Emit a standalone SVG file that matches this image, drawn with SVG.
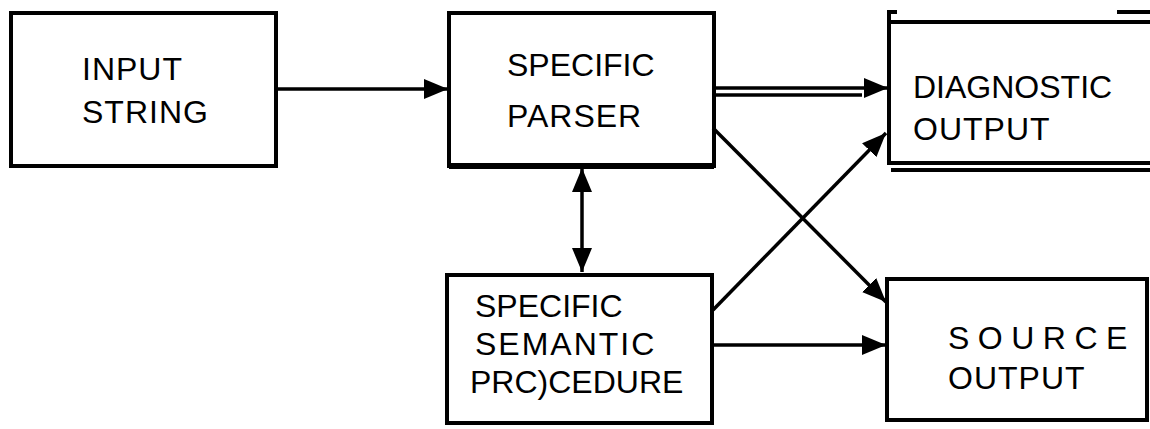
<svg xmlns="http://www.w3.org/2000/svg" width="1150" height="429" viewBox="0 0 1150 429">
<style>
.box{fill:none;stroke:#000;stroke-width:4}
.ln{fill:none;stroke:#000;stroke-width:3.5}
.t{font-family:"Liberation Sans",Arial,sans-serif;font-size:32px;fill:#000}
</style>
<defs>
<marker id="ah" viewBox="0 0 24 20" refX="24" refY="10" markerWidth="24" markerHeight="20" markerUnits="userSpaceOnUse" orient="auto-start-reverse">
<path d="M0,0 L24,10 L0,20 Z" fill="#000"/>
</marker>
</defs>
<rect width="1150" height="429" fill="#fff"/>
<g id="connectors">
<line class="ln" x1="277" y1="89" x2="448" y2="89" marker-end="url(#ah)"/>
<line class="ln" x1="715" y1="88" x2="888" y2="88" marker-end="url(#ah)"/>
<line class="ln" x1="715" y1="95" x2="862" y2="95"/>
<line class="ln" x1="582" y1="168" x2="582" y2="272" marker-start="url(#ah)" marker-end="url(#ah)"/>
<line class="ln" x1="713" y1="128" x2="886" y2="302" marker-end="url(#ah)"/>
<line class="ln" x1="713" y1="310" x2="886" y2="133" marker-end="url(#ah)"/>
<line class="ln" x1="713" y1="345" x2="886" y2="345" marker-end="url(#ah)"/>
</g>
<g id="input-string">
<rect class="box" x="11" y="13" width="265" height="153"/>
<text class="t" x="82" y="80" style="letter-spacing:1px">INPUT</text>
<text class="t" x="82" y="123" style="letter-spacing:1px">STRING</text>
</g>
<g id="specific-parser">
<rect class="box" x="449" y="13" width="265" height="153"/>
<line class="box" x1="449" y1="166" x2="714" y2="166" style="stroke-width:6"/>
<text class="t" x="507" y="76">SPECIFIC</text>
<text class="t" x="507" y="127" style="letter-spacing:1px">PARSER</text>
</g>
<g id="diagnostic-output">
<path class="box" d="M897,12 L889,12 L889,163 L1150,163 M889,22 L1150,22 M1117,12 L1150,12"/>
<line class="box" x1="891" y1="170" x2="1150" y2="170"/>
<text class="t" x="913" y="98">DIAGNOSTIC</text>
<text class="t" x="913" y="140" style="letter-spacing:1px">OUTPUT</text>
</g>
<g id="specific-semantic-procedure">
<rect class="box" x="447" y="275" width="265" height="148"/>
<text class="t" x="475" y="317">SPECIFIC</text>
<text class="t" x="475" y="355" style="letter-spacing:2px">SEMANTIC</text>
<text class="t" x="470" y="393">PRC)CEDURE</text>
</g>
<g id="source-output">
<rect class="box" x="887" y="279" width="260" height="141"/>
<text class="t" x="948" y="349" style="letter-spacing:8.5px">SOURCE</text>
<text class="t" x="948" y="389" style="letter-spacing:1px">OUTPUT</text>
</g>
</svg>
